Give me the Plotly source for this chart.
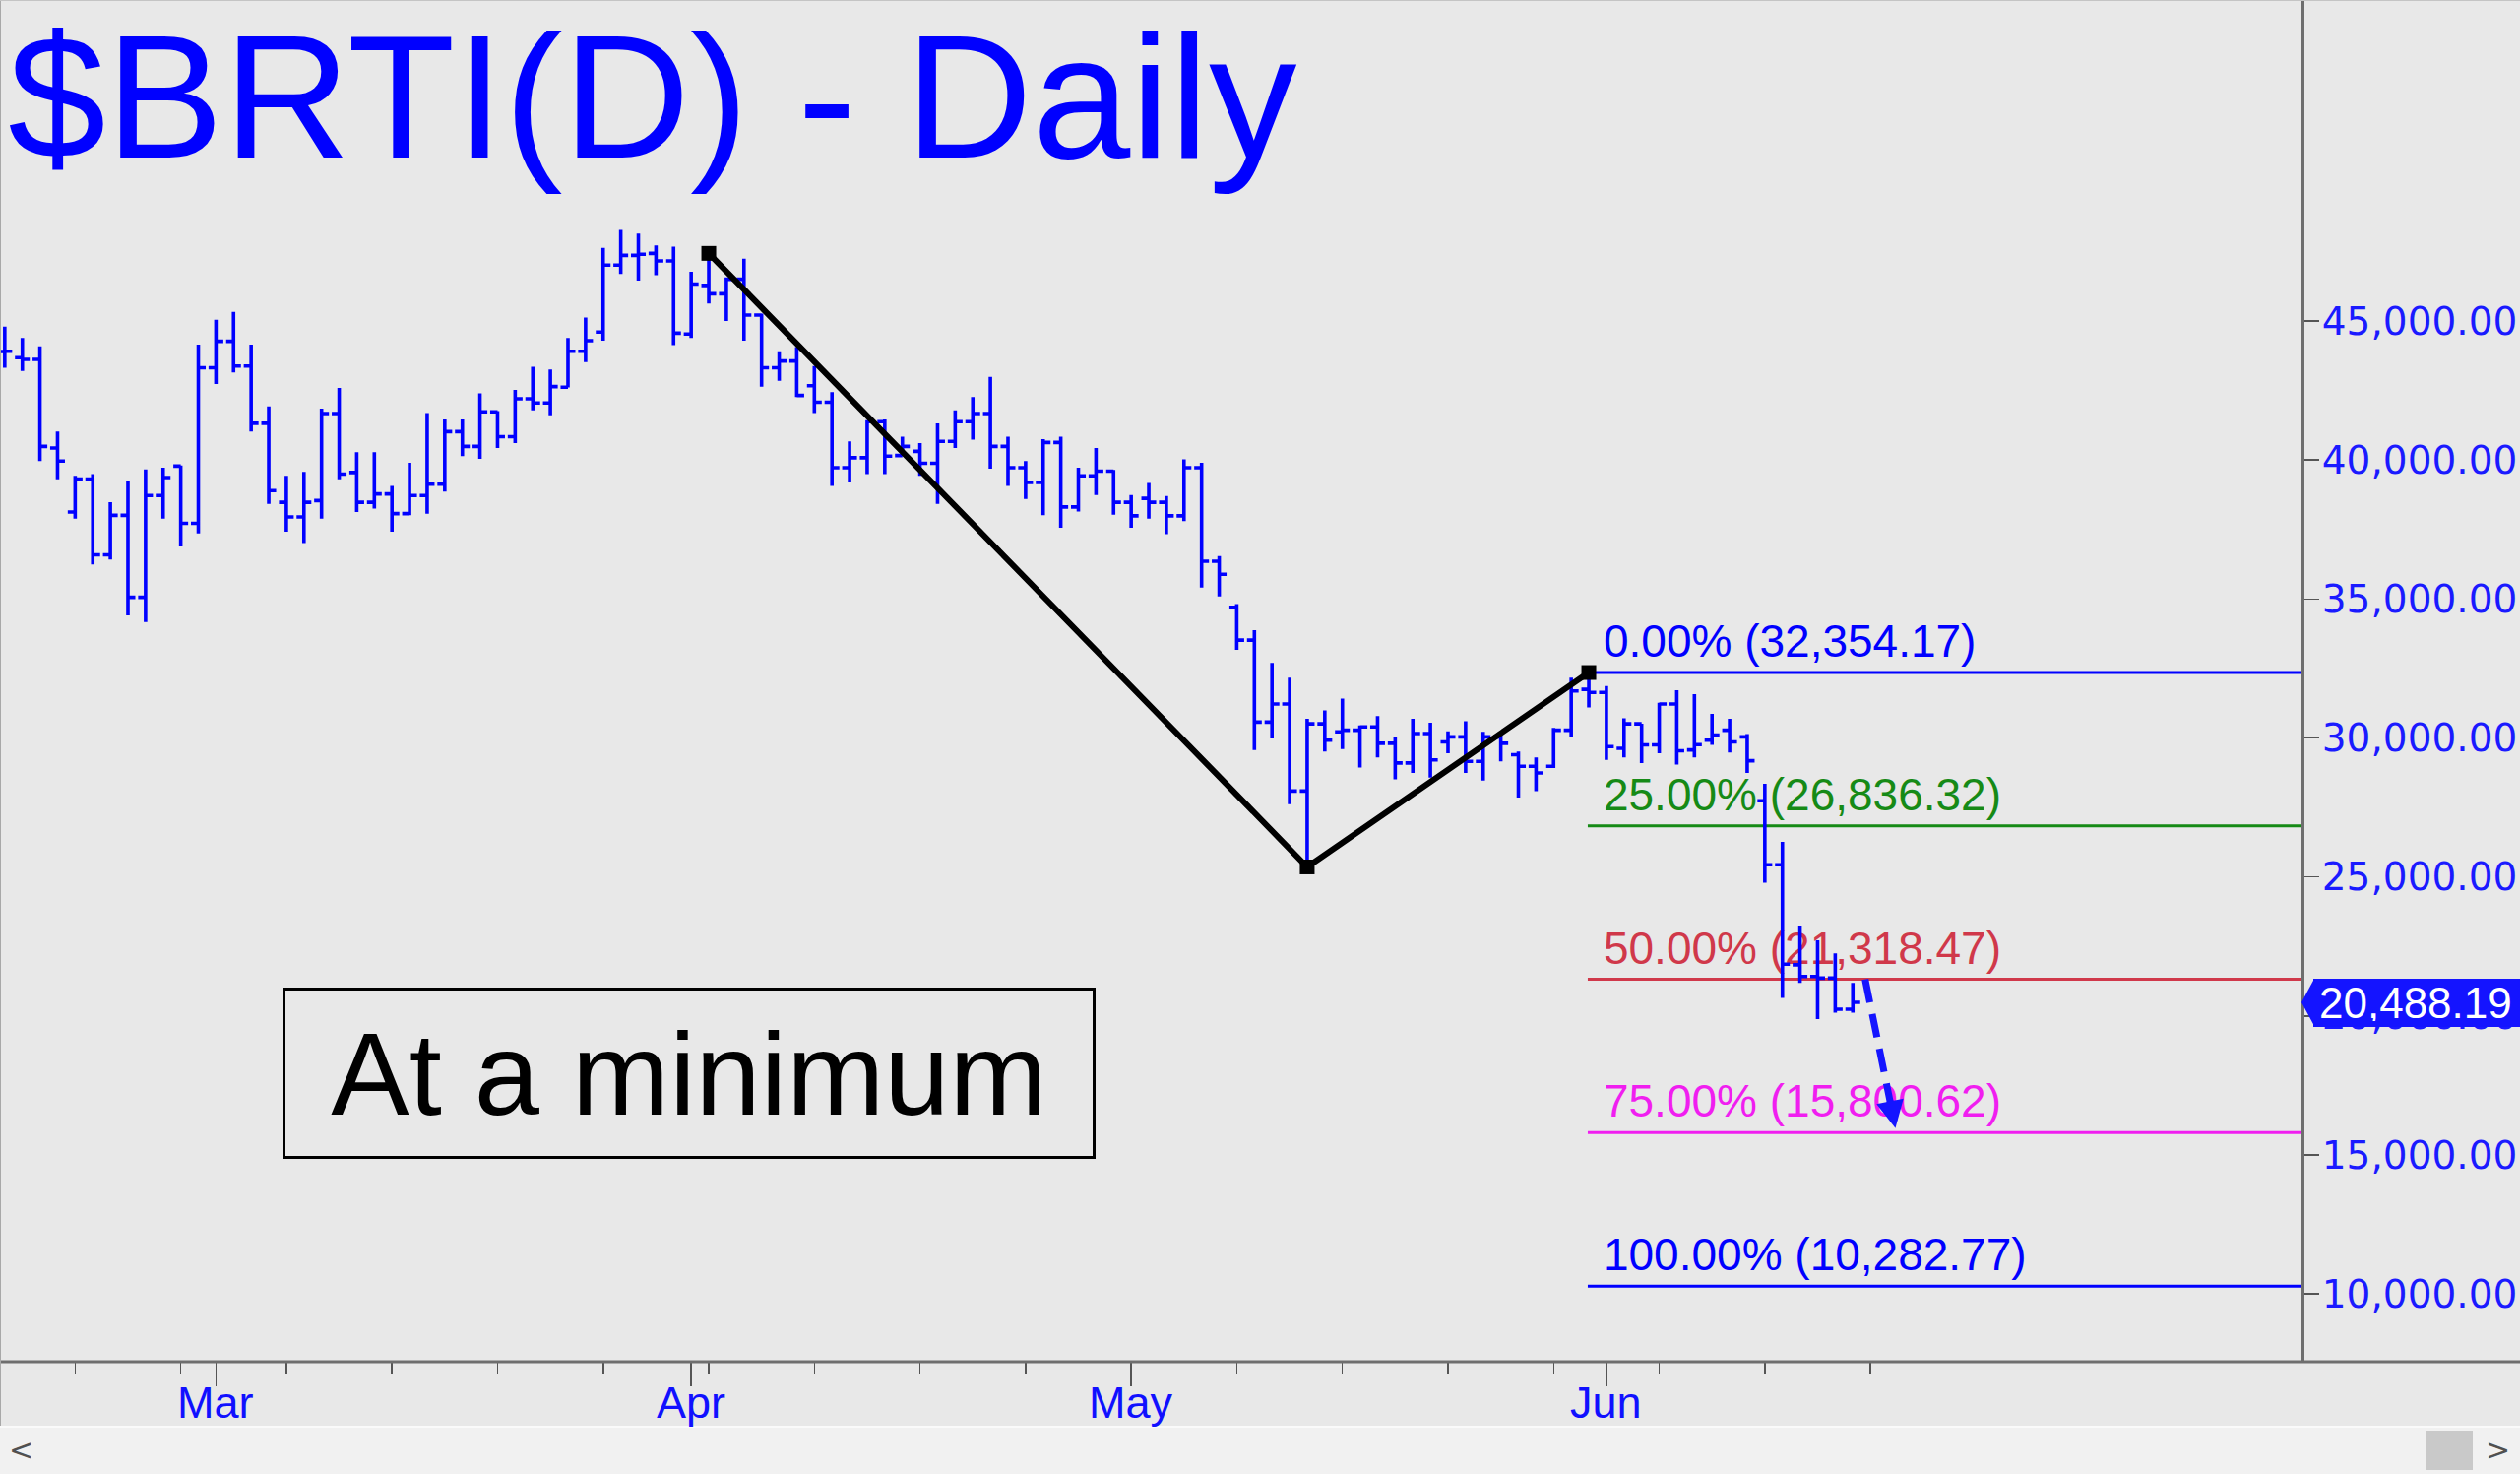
import datetime as _dt
import plotly.graph_objects as go

# ---------------- data ----------------
DATES = [
    "2022-02-15", "2022-02-16", "2022-02-17", "2022-02-18", "2022-02-20", "2022-02-21",
    "2022-02-22", "2022-02-23", "2022-02-24", "2022-02-25", "2022-02-27", "2022-02-28",
    "2022-03-01", "2022-03-02", "2022-03-03", "2022-03-04", "2022-03-06", "2022-03-07",
    "2022-03-08", "2022-03-09", "2022-03-10", "2022-03-11", "2022-03-13", "2022-03-14",
    "2022-03-15", "2022-03-16", "2022-03-17", "2022-03-18", "2022-03-20", "2022-03-21",
    "2022-03-22", "2022-03-23", "2022-03-24", "2022-03-25", "2022-03-27", "2022-03-28",
    "2022-03-29", "2022-03-30", "2022-03-31",
    "2022-04-01", "2022-04-03", "2022-04-04", "2022-04-05", "2022-04-06", "2022-04-07",
    "2022-04-08", "2022-04-10", "2022-04-11", "2022-04-12", "2022-04-13", "2022-04-14",
    "2022-04-15", "2022-04-17", "2022-04-18", "2022-04-19", "2022-04-20", "2022-04-21",
    "2022-04-22", "2022-04-24", "2022-04-25", "2022-04-26", "2022-04-27", "2022-04-28",
    "2022-04-29",
    "2022-05-01", "2022-05-02", "2022-05-03", "2022-05-04", "2022-05-05", "2022-05-06",
    "2022-05-08", "2022-05-09", "2022-05-10", "2022-05-11", "2022-05-12", "2022-05-13",
    "2022-05-15", "2022-05-16", "2022-05-17", "2022-05-18", "2022-05-19", "2022-05-20",
    "2022-05-22", "2022-05-23", "2022-05-24", "2022-05-25", "2022-05-26", "2022-05-27",
    "2022-05-29", "2022-05-30", "2022-05-31",
    "2022-06-01", "2022-06-02", "2022-06-03", "2022-06-05", "2022-06-06", "2022-06-07",
    "2022-06-08", "2022-06-09", "2022-06-10", "2022-06-12", "2022-06-13", "2022-06-14",
    "2022-06-15", "2022-06-16", "2022-06-17",
]
NEXT_WEEK_START = "2022-06-19"   # an axis tick that lies past the last bar

OPEN = [
    43900, 43680, 43620, 40430, 38130, 39310, 36590, 38010, 35060, 38720, 39780, 37720,
    43320, 44270, 43380, 41320, 38480, 37950, 38540, 41670, 39550, 38480, 38780, 38070,
    38720, 39130, 41020, 40490, 41730, 40840, 42200, 42050, 42620, 43910, 44600, 47010,
    47360, 47430, 47160,
    44530, 46280, 45980, 46500, 45210, 43320, 43560, 42670, 42080, 39720, 40080, 41380,
    40160, 40310, 39880, 40670, 41380, 41670, 40490, 39720, 39190, 40630, 38310, 39430,
    39600,
    38480, 38620, 38480, 37990, 39720, 36360, 34700, 33520, 30570, 31220, 28090, 30510,
    30220, 30280, 30400, 29810, 29100, 30160, 29860, 30040, 29160, 30040, 29400, 28980,
    28980, 30280, 31750,
    31640, 29630, 30510, 29750, 31220, 29570, 29920, 30280, 30040, 27740, 25440, 21840,
    21420, 21360, 20240,
]
HIGH = [
    44800, 44390, 44090, 41020, 39430, 39490, 38480, 39250, 39660, 39720, 39800, 44150,
    45040, 45330, 44150, 41930, 39430, 39570, 41850, 42590, 40280, 40280, 39070, 39900,
    41690, 41460, 41460, 42400, 41760, 42520, 43350, 43260, 44390, 45120, 47630, 48280,
    48140, 47720, 47670,
    46770, 47430, 46570, 47240, 45270, 43910, 44060, 43380, 42440, 40670, 41430, 41460,
    40840, 40610, 41320, 41790, 42260, 42990, 40840, 39960, 40750, 40840, 39720, 40430,
    39640,
    38740, 39170, 38700, 40020, 39900, 36540, 34820, 33880, 32700, 32170, 30690, 30990,
    31420, 30450, 30790, 30040, 30690, 30550, 30240, 30600, 30220, 30190, 29510, 29300,
    30360, 32170, 32354.17,
    31870, 30710, 30510, 31270, 31720, 31580, 30870, 30690, 30140, 28350, 26260, 23250,
    22720, 22250, 21190,
]
LOW = [
    43320, 43200, 39960, 39310, 37890, 36240, 36420, 34410, 34170, 37890, 36890, 37360,
    42730, 43150, 41020, 38420, 37420, 37010, 37890, 39310, 38130, 38250, 37420, 38010,
    38070, 38860, 40140, 40040, 40430, 40610, 41790, 41610, 42610, 43520, 44290, 46690,
    46450, 46650, 44130,
    44390, 45630, 45000, 44290, 42640, 42850, 42260, 41690, 39070, 39190, 39490, 39490,
    40140, 39430, 38420, 40430, 40730, 39690, 39070, 38600, 38010, 37560, 38150, 38740,
    38030,
    37560, 37890, 37330, 37800, 35410, 35090, 33170, 29570, 29980, 27620, 25260, 29510,
    29600, 28940, 29300, 28510, 28740, 28570, 29450, 28740, 28470, 29160, 27860, 28090,
    28920, 30040, 31100,
    29210, 29300, 29100, 29450, 29040, 29300, 29750, 29480, 28740, 24790, 20650, 21190,
    19890, 20120, 20120,
]
CLOSE = [
    43910, 43620, 40490, 39960, 39310, 36590, 38010, 35060, 38720, 39370, 37720, 43320,
    44270, 43380, 41320, 38900, 37950, 38480, 41670, 39490, 38480, 38780, 38070, 38720,
    39130, 41020, 40490, 41730, 40840, 42200, 42050, 42640, 43910, 44290, 47010, 47360,
    47400, 47160, 44560,
    46330, 45980, 46500, 45210, 43320, 43560, 42320, 42080, 39720, 40080, 41380, 40140,
    40490, 39880, 40670, 41380, 41670, 40490, 39720, 39190, 40630, 38310, 39430, 39600,
    38480,
    37990, 38480, 37990, 39720, 36360, 35890, 33520, 30570, 31220, 28090, 30510, 29920,
    30280, 30400, 29810, 29100, 30160, 29210, 30040, 29160, 30040, 29810, 28980, 28740,
    30280, 31690, 31640,
    29690, 30510, 29750, 31220, 29540, 29760, 30100, 29860, 29180, 25440, 21860, 21420,
    21360, 20240, 20488.19,
]

MONTH_TICK_DATES = ["2022-03-01", "2022-04-01", "2022-05-01", "2022-06-01"]
MONTH_LABELS = ["Mar", "Apr", "May", "Jun"]
Y_TICKS = [10000, 15000, 20000, 25000, 30000, 35000, 40000, 45000]

FIB_PCT = ["0.00%", "25.00%", "50.00%", "75.00%", "100.00%"]
FIB_VAL = [32354.17, 26836.32, 21318.47, 15800.62, 10282.77]
FIB_COL = ["#0000ff", "#168a16", "#d0384a", "#f01ef0", "#0000ff"]

SWING_DATES = ["2022-04-03", "2022-05-12", "2022-05-31"]
SWING_VALS = [47432.0, 25360.6, 32354.17]

PROJ_BARS_AHEAD = [0.7, 2.42]          # start / tip of the projection arrow, in bars after the last bar
PROJ_VALS = [21318.47, 15960.0]

TITLE = "$BRTI(D) - Daily"
NOTE = "At a minimum"

# ---------------- derived positions ----------------
X = list(range(len(DATES)))
pos = {d: i for i, d in enumerate(DATES)}
month_x = [pos[d] for d in MONTH_TICK_DATES]
sunday_x = [i for i, d in enumerate(DATES) if _dt.date.fromisoformat(d).weekday() == 6]
sunday_x.append(len(DATES))  # NEXT_WEEK_START
swing_x = [pos[d] for d in SWING_DATES]
last = len(DATES) - 1
last_close = CLOSE[-1]

XR = [-0.27, 130.49]
YR = [7561, 56547]

BLUE = "#0000ff"
BG = "#e8e8e8"
ARIAL = "Liberation Sans, Arial, sans-serif"
PLOT_H = 1383.0
PLOT_W = 2338.0
PX_PER_BAR = PLOT_W / (XR[1] - XR[0])

fig = go.Figure()

fig.add_trace(go.Ohlc(
    x=X, open=OPEN, high=HIGH, low=LOW, close=CLOSE,
    increasing=dict(line=dict(color=BLUE, width=3.6)),
    decreasing=dict(line=dict(color=BLUE, width=3.6)),
    tickwidth=0.42, hoverinfo="skip", showlegend=False,
))

# swing line
fig.add_trace(go.Scatter(
    x=swing_x, y=SWING_VALS, mode="lines+markers",
    line=dict(color="black", width=6),
    marker=dict(symbol="square", size=15, color="black"),
    hoverinfo="skip", showlegend=False,
))

# projection arrow (dashed shaft)
tip_x = last + PROJ_BARS_AHEAD[1]
tip_y = PROJ_VALS[1]
fig.add_trace(go.Scatter(
    x=[last + PROJ_BARS_AHEAD[0], tip_x - 0.25], y=[PROJ_VALS[0], tip_y + 800],
    mode="lines", line=dict(color="#1414ff", width=7, dash="24px,12px"),
    hoverinfo="skip", showlegend=False,
))

shapes = []
annotations = []

# fibonacci levels with labels (below the bars)
fib_x0 = swing_x[2] - 0.06
label_x0 = fib_x0 + 16 / PX_PER_BAR
for pct, val, col in zip(FIB_PCT, FIB_VAL, FIB_COL):
    shapes.append(dict(
        type="line", xref="x", yref="y", x0=fib_x0, x1=XR[1], y0=val, y1=val,
        line=dict(color=col, width=3), layer="below",
    ))
    shapes.append(dict(
        type="line", xref="x", yref="y", x0=label_x0, x1=XR[1], y0=val, y1=val,
        line=dict(color=col, width=0), layer="below",
        label=dict(text=f"{pct} ({val:,.2f})", textposition="start",
                   xanchor="left", yanchor="bottom", padding=10,
                   font=dict(family=ARIAL, size=46, color=col)),
    ))

# arrow head
annotations.append(dict(
    x=tip_x, y=tip_y, ax=tip_x - 0.33, ay=tip_y + 1041,
    xref="x", yref="y", axref="x", ayref="y", text="",
    showarrow=True, arrowhead=2, arrowsize=0.8, arrowwidth=7, arrowcolor="#1414ff",
))

# title
annotations.append(dict(
    text=TITLE, xref="paper", yref="paper", x=0, y=(PLOT_H - 98) / PLOT_H,
    xanchor="left", yanchor="middle", xshift=6, showarrow=False,
    font=dict(family=ARIAL, size=179, color=BLUE),
))

# note box
annotations.append(dict(
    text=NOTE, xref="paper", yref="paper", x=700 / PLOT_W, y=(PLOT_H - 1090) / PLOT_H,
    xanchor="center", yanchor="middle", showarrow=False,
    width=820, height=168, borderpad=0, borderwidth=3, bordercolor="black",
    font=dict(family=ARIAL, size=119, color="black"),
))

# month labels under the axis
for mx, ml in zip(month_x, MONTH_LABELS):
    annotations.append(dict(
        text=ml, xref="x", yref="paper", x=mx, y=(PLOT_H - 1424) / PLOT_H,
        xanchor="center", yanchor="middle", showarrow=False,
        font=dict(family="Liberation Sans Narrow, " + ARIAL, size=45, color="#1010ff"),
    ))

# last price tag
annotations.append(dict(
    text=f"{last_close:,.2f}", xref="paper", yref="y", x=1, y=last_close,
    xanchor="left", yanchor="middle", xshift=12, showarrow=False,
    bgcolor="#1414ff", borderpad=6, borderwidth=0, width=205, height=37, align="left",
    font=dict(family=ARIAL, size=44, color="white"),
))
shapes.append(dict(
    type="path", xref="paper", yref="y", xsizemode="pixel", ysizemode="pixel",
    xanchor=1, yanchor=last_close, path="M 0,0 L 13,24 L 13,-24 Z",
    fillcolor="#1414ff", line=dict(width=0), layer="above",
))

# bottom axis line spanning full width
shapes.append(dict(type="line", xref="paper", yref="paper", x0=0, x1=1.1, y0=0, y1=0,
                   line=dict(color="#6e6e6e", width=3), layer="above"))
# thin window border at left / top
shapes.append(dict(type="line", xref="paper", yref="paper", x0=0, x1=0,
                   y0=(PLOT_H - 1449) / PLOT_H, y1=1,
                   line=dict(color="#a8a8a8", width=2), layer="above"))
shapes.append(dict(type="line", xref="paper", yref="paper", x0=0, x1=1.1, y0=1, y1=1,
                   line=dict(color="#c4c4c4", width=2), layer="above"))

# scrollbar strip
shapes.append(dict(type="rect", xref="paper", yref="paper", x0=0, x1=1.1,
                   y0=(PLOT_H - 1449) / PLOT_H, y1=(PLOT_H - 1500) / PLOT_H,
                   fillcolor="#f1f1f1", line=dict(width=0), layer="above"))
shapes.append(dict(type="line", xref="paper", yref="paper", x0=0, x1=1.1,
                   y0=(PLOT_H - 1449) / PLOT_H, y1=(PLOT_H - 1449) / PLOT_H,
                   line=dict(color="#fafafa", width=2), layer="above"))
shapes.append(dict(type="rect", xref="paper", yref="paper", x0=2465 / PLOT_W, x1=2512 / PLOT_W,
                   y0=(PLOT_H - 1453) / PLOT_H, y1=(PLOT_H - 1493) / PLOT_H,
                   fillcolor="#c9c9c9", line=dict(width=0), layer="above"))
for ch, px in [("<", 21), (">", 2537)]:
    annotations.append(dict(
        text=ch, xref="paper", yref="paper", x=px / PLOT_W, y=(PLOT_H - 1472) / PLOT_H,
        xanchor="center", yanchor="middle", showarrow=False,
        font=dict(family="DejaVu Sans", size=30, color="#505050"),
    ))

fig.update_layout(
    width=2560, height=1497,
    margin=dict(l=0, r=222, t=0, b=114),
    paper_bgcolor=BG, plot_bgcolor=BG,
    showlegend=False, hovermode=False,
    shapes=shapes, annotations=annotations,
    xaxis=dict(
        range=XR, showgrid=False, zeroline=False, showline=False,
        tickmode="array", tickvals=month_x, showticklabels=False,
        ticks="outside", ticklen=24, tickwidth=1.5, tickcolor="#555555",
        minor=dict(tickmode="array", tickvals=sunday_x, ticks="outside",
                   ticklen=11, tickwidth=1.5, tickcolor="#555555", showgrid=False),
        rangeslider=dict(visible=False), fixedrange=True,
    ),
    yaxis=dict(
        side="right", range=YR, showgrid=False, zeroline=False,
        tickmode="array", tickvals=Y_TICKS, tickformat=",.2f",
        ticks="outside", ticklen=15, tickwidth=1.5, tickcolor="#555555",
        ticklabelstandoff=-5,
        showline=True, linecolor="#6e6e6e", linewidth=3,
        tickfont=dict(family="DejaVu Sans, Verdana, sans-serif", size=39, color="#1a1aff"),
        fixedrange=True,
    ),
)

fig.write_html(
    "out.html",
    config={"displayModeBar": False, "staticPlot": True},
    post_script="document.body.style.margin='0px';document.body.style.overflow='hidden';",
)
